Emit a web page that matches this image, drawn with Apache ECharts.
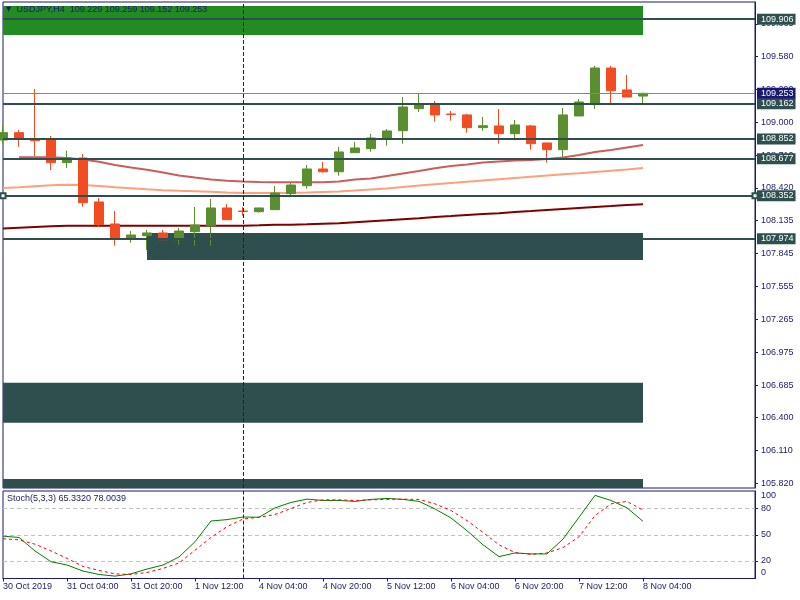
<!DOCTYPE html>
<html><head><meta charset="utf-8">
<script src="https://cdn.jsdelivr.net/npm/echarts@6/dist/echarts.min.js"></script>
<style>html,body{margin:0;padding:0;background:#fff}#c{width:800px;height:600px}</style>
</head><body><div id="c"></div>
<script>
const times = ['30 Oct 12:00','30 Oct 16:00','30 Oct 20:00','31 Oct 00:00','31 Oct 04:00','31 Oct 08:00','31 Oct 12:00','31 Oct 16:00','31 Oct 20:00','1 Nov 00:00','1 Nov 04:00','1 Nov 08:00','1 Nov 12:00','1 Nov 16:00','1 Nov 20:00','4 Nov 00:00','4 Nov 04:00','4 Nov 08:00','4 Nov 12:00','4 Nov 16:00','4 Nov 20:00','5 Nov 00:00','5 Nov 04:00','5 Nov 08:00','5 Nov 12:00','5 Nov 16:00','5 Nov 20:00','6 Nov 00:00','6 Nov 04:00','6 Nov 08:00','6 Nov 12:00','6 Nov 16:00','6 Nov 20:00','7 Nov 00:00','7 Nov 04:00','7 Nov 08:00','7 Nov 12:00','7 Nov 16:00','7 Nov 20:00','8 Nov 00:00','8 Nov 04:00'];
const tickLabels = ['30 Oct 2019','31 Oct 04:00','31 Oct 20:00','1 Nov 12:00','4 Nov 04:00','4 Nov 20:00','5 Nov 12:00','6 Nov 04:00','6 Nov 20:00','7 Nov 12:00','8 Nov 04:00'];
const open  = [108.842,108.907,108.851,108.842,108.643,108.684,108.297,108.103,107.974,108.000,108.024,107.965,108.035,108.088,108.244,108.217,108.211,108.229,108.370,108.440,108.587,108.563,108.731,108.766,108.851,108.924,109.118,109.151,109.071,109.063,108.951,108.966,108.898,108.966,108.816,108.757,109.054,109.168,109.476,109.283,109.229];
const high  = [108.974,108.930,109.291,108.878,108.748,108.719,108.332,108.217,108.041,108.050,108.050,108.068,108.253,108.323,108.279,108.253,108.246,108.437,108.467,108.622,108.649,108.781,108.825,108.895,108.939,109.221,109.250,109.186,109.098,109.074,109.045,109.115,109.018,108.975,108.818,109.124,109.203,109.494,109.494,109.415,109.259];
const low   = [108.813,108.783,108.702,108.578,108.596,108.255,108.079,107.912,107.938,107.874,107.962,107.921,107.912,107.912,108.138,108.176,108.203,108.226,108.358,108.414,108.555,108.528,108.729,108.739,108.792,108.810,109.089,109.004,109.012,108.907,108.924,108.810,108.845,108.757,108.643,108.693,109.052,109.115,109.151,109.219,109.152];
const close = [108.907,108.851,108.836,108.643,108.684,108.291,108.097,107.974,108.006,108.024,107.965,108.041,108.094,108.244,108.141,108.213,108.244,108.376,108.446,108.587,108.563,108.737,108.772,108.860,108.922,109.133,109.153,109.063,109.067,108.951,108.968,108.898,108.975,108.810,108.757,109.063,109.177,109.476,109.276,109.221,109.253];
const maIndianRed = [null,108.690,108.690,108.690,108.684,108.671,108.651,108.622,108.600,108.581,108.556,108.530,108.512,108.495,108.484,108.477,108.473,108.470,108.470,108.470,108.470,108.477,108.495,108.504,108.526,108.548,108.570,108.593,108.614,108.627,108.644,108.653,108.662,108.666,108.675,108.688,108.710,108.737,108.754,108.776,108.798];
const maSalmon = [108.420,108.427,108.436,108.445,108.449,108.447,108.438,108.427,108.418,108.409,108.401,108.396,108.392,108.386,108.380,108.376,108.376,108.376,108.376,108.380,108.385,108.389,108.398,108.407,108.416,108.429,108.442,108.453,108.464,108.475,108.486,108.497,108.508,108.519,108.530,108.541,108.550,108.561,108.572,108.583,108.596];
const maMaroon = [108.063,108.070,108.077,108.084,108.088,108.088,108.088,108.088,108.088,108.088,108.088,108.088,108.088,108.088,108.088,108.088,108.092,108.097,108.097,108.101,108.106,108.110,108.119,108.128,108.136,108.145,108.154,108.165,108.173,108.182,108.191,108.197,108.209,108.217,108.226,108.235,108.244,108.253,108.261,108.270,108.276];
const stochK = [48.4,46.9,31.5,19.2,15.4,8.5,4.6,2.7,5.3,10.8,15.4,24.6,42.0,65.7,67.3,70.3,70.0,80.7,86.9,90.7,89.2,89.2,88.1,90.4,91.5,90.4,88.1,79.5,69.2,54.6,38.5,25.0,29.2,28.1,28.1,45.0,70.0,95.0,89.2,80.7,65.3320];
const stochD = [45.4,44.2,39.2,31.5,23.0,13.8,9.2,5.3,4.6,6.9,11.5,17.7,32.3,46.9,59.2,68.0,70.0,73.1,80.0,86.9,89.9,89.9,89.2,89.9,90.4,90.7,90.4,85.3,77.7,66.2,52.7,38.5,29.6,27.6,29.2,35.3,47.7,71.9,85.3,88.1,78.0039];
const priceTicks = [109.865,109.580,109.290,109.000,108.710,108.420,108.135,107.845,107.555,107.265,106.975,106.685,106.400,106.110,105.820];
const stochTicks = [0,20,50,80,100];
const stochLevels = [20,50,80];
const hLevels = [109.906,109.162,108.852,108.677,107.974];
const selectedLevel = 108.352;
const bidPrice = 109.253;
const greenZones = [[0,40,109.767,110.022]];
const darkZones = [[9,40,107.786,108.024],[0,40,106.354,106.706],[0,40,105.779,105.858]];
const vLineIndex = 15;
const PRICE_MIN = 105.779, PRICE_MAX = 110.057;

const NAVY = '#191970', FONT = 'Liberation Sans', BULL = '#5A8E30', BEAR = '#F24C23', SLATE = '#2F4F4F';
const N = times.length;
const cats = times.slice();
for (let i = N; i < 48; i++) cats.push('slot' + i);
const isTick = i => i % 4 === 0 && i < N;
const candleData = open.map((o, i) => [o, close[i], low[i], high[i]]);
const lvlLabel = (bg) => ({show:true, position:'end', distance:2, color:'#fff', backgroundColor:bg, padding:[1,2,0,4], fontSize:9, lineHeight:10, fontFamily:FONT, formatter:p => (+p.value).toFixed(3)});

const zones = greenZones.map(z => [{xAxis:z[0], yAxis:z[3], itemStyle:{color:'#228B22', opacity:1}}, {xAxis:z[1], yAxis:z[2]}])
  .concat(darkZones.map(z => [{xAxis:z[0], yAxis:z[3], itemStyle:{color:SLATE, opacity:1}}, {xAxis:z[1], yAxis:z[2]}]));

const mlData = hLevels.map(v => ({yAxis:v, lineStyle:{color:SLATE, width:2, type:'solid'}, label:lvlLabel(SLATE)}));
mlData.push([{xAxis:0, yAxis:selectedLevel, symbol:'emptyRect', symbolSize:5, lineStyle:{color:SLATE, width:2, type:'solid'}, label:lvlLabel(SLATE), value:selectedLevel},
             {xAxis:47, yAxis:selectedLevel, symbol:'emptyRect', symbolSize:5}]);
mlData.push({yAxis:bidPrice, lineStyle:{color:'#778899', width:1, type:'solid'}, label:lvlLabel(NAVY)});
mlData.push({xAxis:vLineIndex, lineStyle:{color:NAVY, width:1, type:[4,2]}, label:{show:false}});

const maSeries = (data, color) => ({type:'line', xAxisIndex:0, yAxisIndex:0, data, symbol:'none', showSymbol:false, z:2, silent:true, lineStyle:{color, width:2}});

const chart = echarts.init(document.getElementById('c'), null, {renderer:'canvas'});
chart.setOption({
  animation:false,
  backgroundColor:'#fff',
  textStyle:{fontFamily:FONT},
  title:[
    {left:6, top:5, padding:0, text:'{a|▼}  USDJPY,H4  ' + [open[N-1],high[N-1],low[N-1],close[N-1]].map(v=>v.toFixed(3)).join(' '),
     textStyle:{fontSize:9, fontWeight:'normal', color:NAVY, fontFamily:FONT, rich:{a:{fontSize:7, color:NAVY, fontFamily:'DejaVu Sans'}}}},
    {left:7, top:494, padding:0, text:'Stoch(5,3,3) ' + stochK[N-1].toFixed(4) + ' ' + stochD[N-1].toFixed(4),
     textStyle:{fontSize:9, fontWeight:'normal', color:NAVY, fontFamily:FONT}}
  ],
  grid:[
    {left:3, top:2, width:752, height:486, show:true, borderColor:NAVY, borderWidth:1, backgroundColor:'transparent', containLabel:false, outerBoundsMode:'none'},
    {left:3, top:491, width:752, height:87.5, show:true, borderColor:NAVY, borderWidth:1, backgroundColor:'transparent', containLabel:false, outerBoundsMode:'none'}
  ],
  xAxis:[
    {type:'category', gridIndex:0, data:cats, boundaryGap:false, show:false},
    {type:'category', gridIndex:1, data:cats, boundaryGap:false,
     axisLine:{show:true, onZero:false, lineStyle:{color:NAVY, width:1}},
     axisTick:{show:true, interval:(i)=>isTick(i), length:3, lineStyle:{color:NAVY}},
     axisLabel:{interval:(i)=>isTick(i), formatter:(v,i)=>isTick(i)?tickLabels[i/4]:'', align:'left', margin:4, color:NAVY, fontSize:9, fontFamily:FONT},
     splitLine:{show:false}}
  ],
  yAxis:[
    {type:'value', gridIndex:0, position:'right', min:PRICE_MIN, max:PRICE_MAX, scale:true, splitLine:{show:false},
     axisLine:{show:true, lineStyle:{color:NAVY}},
     axisTick:{show:true, customValues:priceTicks, length:3, lineStyle:{color:NAVY}},
     axisLabel:{customValues:priceTicks, formatter:v=>(+v).toFixed(3), color:NAVY, fontSize:9, fontFamily:FONT, margin:6, padding:[3,0,0,0]}},
    {type:'value', gridIndex:1, position:'right', min:0, max:100, splitLine:{show:false},
     axisLine:{show:true, lineStyle:{color:NAVY}},
     axisTick:{show:true, customValues:stochLevels, length:3, lineStyle:{color:NAVY}},
     axisLabel:{customValues:stochTicks, color:NAVY, fontSize:9, fontFamily:FONT, margin:6,
       formatter:v=> v===100 ? '{t|100}' : (v===0 ? '{b|0}' : String(v)),
       rich:{t:{padding:[10,0,0,0], fontSize:9, color:NAVY, fontFamily:FONT}, b:{padding:[0,0,12,0], fontSize:9, color:NAVY, fontFamily:FONT}}}}
  ],
  series:[
    maSeries(maIndianRed, '#CD5C5C'),
    maSeries(maSalmon, '#FFA07A'),
    maSeries(maMaroon, '#800000'),
    {type:'candlestick', xAxisIndex:0, yAxisIndex:0, data:candleData, barWidth:10, z:3, silent:true,
     itemStyle:{color:BULL, color0:BEAR, borderColor:BULL, borderColor0:BEAR, borderColorDoji:BEAR, borderWidth:1},
     markArea:{silent:true, z:1, data:zones},
     markLine:{silent:true, z:5, symbol:'none', animation:false, precision:3, data:mlData}},
    {type:'line', xAxisIndex:1, yAxisIndex:1, data:stochK, symbol:'none', showSymbol:false, z:3, silent:true, lineStyle:{color:'#008000', width:1},
     markLine:{silent:true, z:1, symbol:'none', animation:false, label:{show:false},
       data: stochLevels.map(v=>({yAxis:v, lineStyle:{color:'#C0C0C0', width:1, type:[4,3]}})).concat([{xAxis:vLineIndex, lineStyle:{color:NAVY, width:1, type:[4,2]}}])}},
    {type:'line', xAxisIndex:1, yAxisIndex:1, data:stochD, symbol:'none', showSymbol:false, z:3, silent:true, lineStyle:{color:'#FF0000', width:1, type:[3,3]}}
  ]
});
</script></body></html>
